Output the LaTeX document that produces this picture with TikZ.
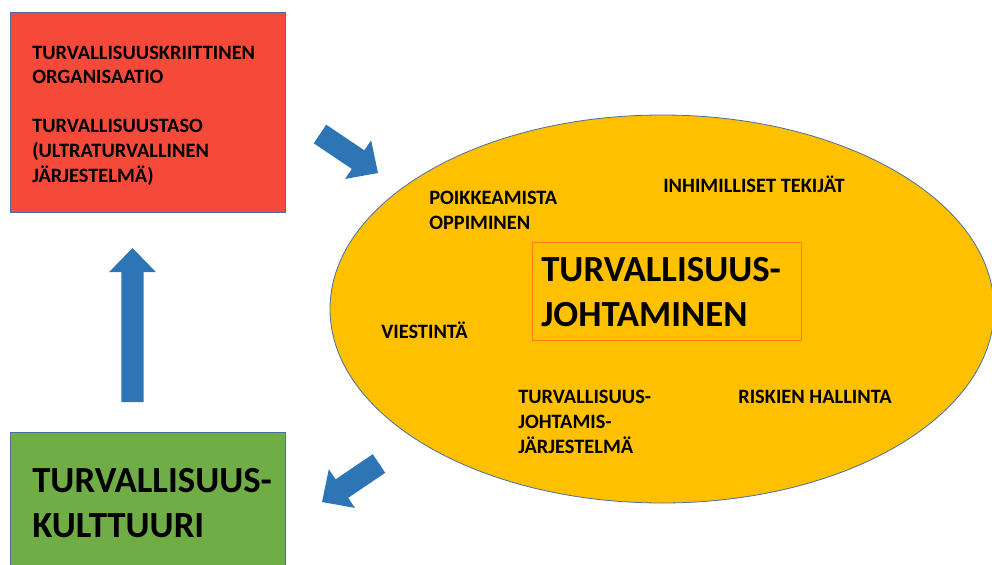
\documentclass[tikz,border=0pt]{standalone}
\usepackage{fontspec}
\setmainfont{Carlito}
\usetikzlibrary{calc}

\definecolor{boxred}{HTML}{F54A3A}
\definecolor{boxgreen}{HTML}{70AD47}
\definecolor{ovalgold}{HTML}{FFC000}
\definecolor{frameorange}{HTML}{FF7C10}
\definecolor{edgeblue}{HTML}{4A6FA0}
\definecolor{arrowblue}{HTML}{2E75B6}

% block arrow from tail point #1 to tip point #2
\newcommand\blockarrow[2]{%
  \coordinate (hb) at ($(#2)!18pt!(#1)$);
  \fill[arrowblue]
    ($(#1)!8.4pt!90:(#2)$) -- ($(hb)!8.4pt!90:(#2)$) --
    ($(hb)!17.5pt!90:(#2)$) -- (#2) --
    ($(hb)!17.5pt!-90:(#2)$) -- ($(hb)!8.4pt!-90:(#2)$) --
    ($(#1)!8.4pt!-90:(#2)$) -- cycle;
}

\begin{document}
\begin{tikzpicture}[x=0.75pt,y=-0.75pt,
  panel/.style={draw=edgeblue,line width=0.6pt},
  % multi-line texts are placed by the baseline of their last line
  smalltxt/.style={font=\bfseries\fontsize{15.3}{18.4}\selectfont,
    align=left,anchor=base west,inner sep=0pt},
  bigtxt/.style={font=\bfseries\fontsize{27.6}{33.2}\selectfont,
    align=left,anchor=base west,inner sep=0pt}]

\path[use as bounding box] (0,0) rectangle (992,564);

% boxes and the oval
\path[panel,fill=boxred] (10,12) rectangle (285,212);
\path[panel,fill=boxgreen] (10,432) rectangle (285,566);
\path[draw=edgeblue,line width=0.6pt,fill=ovalgold] (662,309) ellipse [x radius=332,y radius=194];
\draw[frameorange,line width=0.7pt] (532,242) rectangle (801,340);

% texts
\node[smalltxt] (org) at (32,182) {TURVALLISUUSKRIITTINEN\\ORGANISAATIO\\[18.4pt]TURVALLISUUSTASO\\(ULTRATURVALLINEN\\JÄRJESTELMÄ)};
\node[bigtxt] (culture) at (32,537) {TURVALLISUUS-\\KULTTUURI};
\node[bigtxt] (mgmt) at (541,326) {TURVALLISUUS-\\JOHTAMINEN};
\node[smalltxt] (learn) at (429,229) {POIKKEAMISTA\\OPPIMINEN};
\node[smalltxt] (human) at (663,192) {INHIMILLISET TEKIJÄT};
\node[smalltxt] (comm) at (381,338) {VIESTINTÄ};
\node[smalltxt] (sms) at (518,453) {TURVALLISUUS-\\JOHTAMIS-\\JÄRJESTELMÄ};
\node[smalltxt] (risk) at (738,403) {RISKIEN HALLINTA};

% block arrows
\coordinate (upT) at (132.5,402);
\coordinate (upP) at (132.5,248);
\blockarrow{upT}{upP}
\coordinate (inT) at (320,134);
\coordinate (inP) at (378,173);
\blockarrow{inT}{inP}
\coordinate (outT) at (379,463.5);
\coordinate (outP) at (322,502);
\blockarrow{outT}{outP}
\end{tikzpicture}
\end{document}
